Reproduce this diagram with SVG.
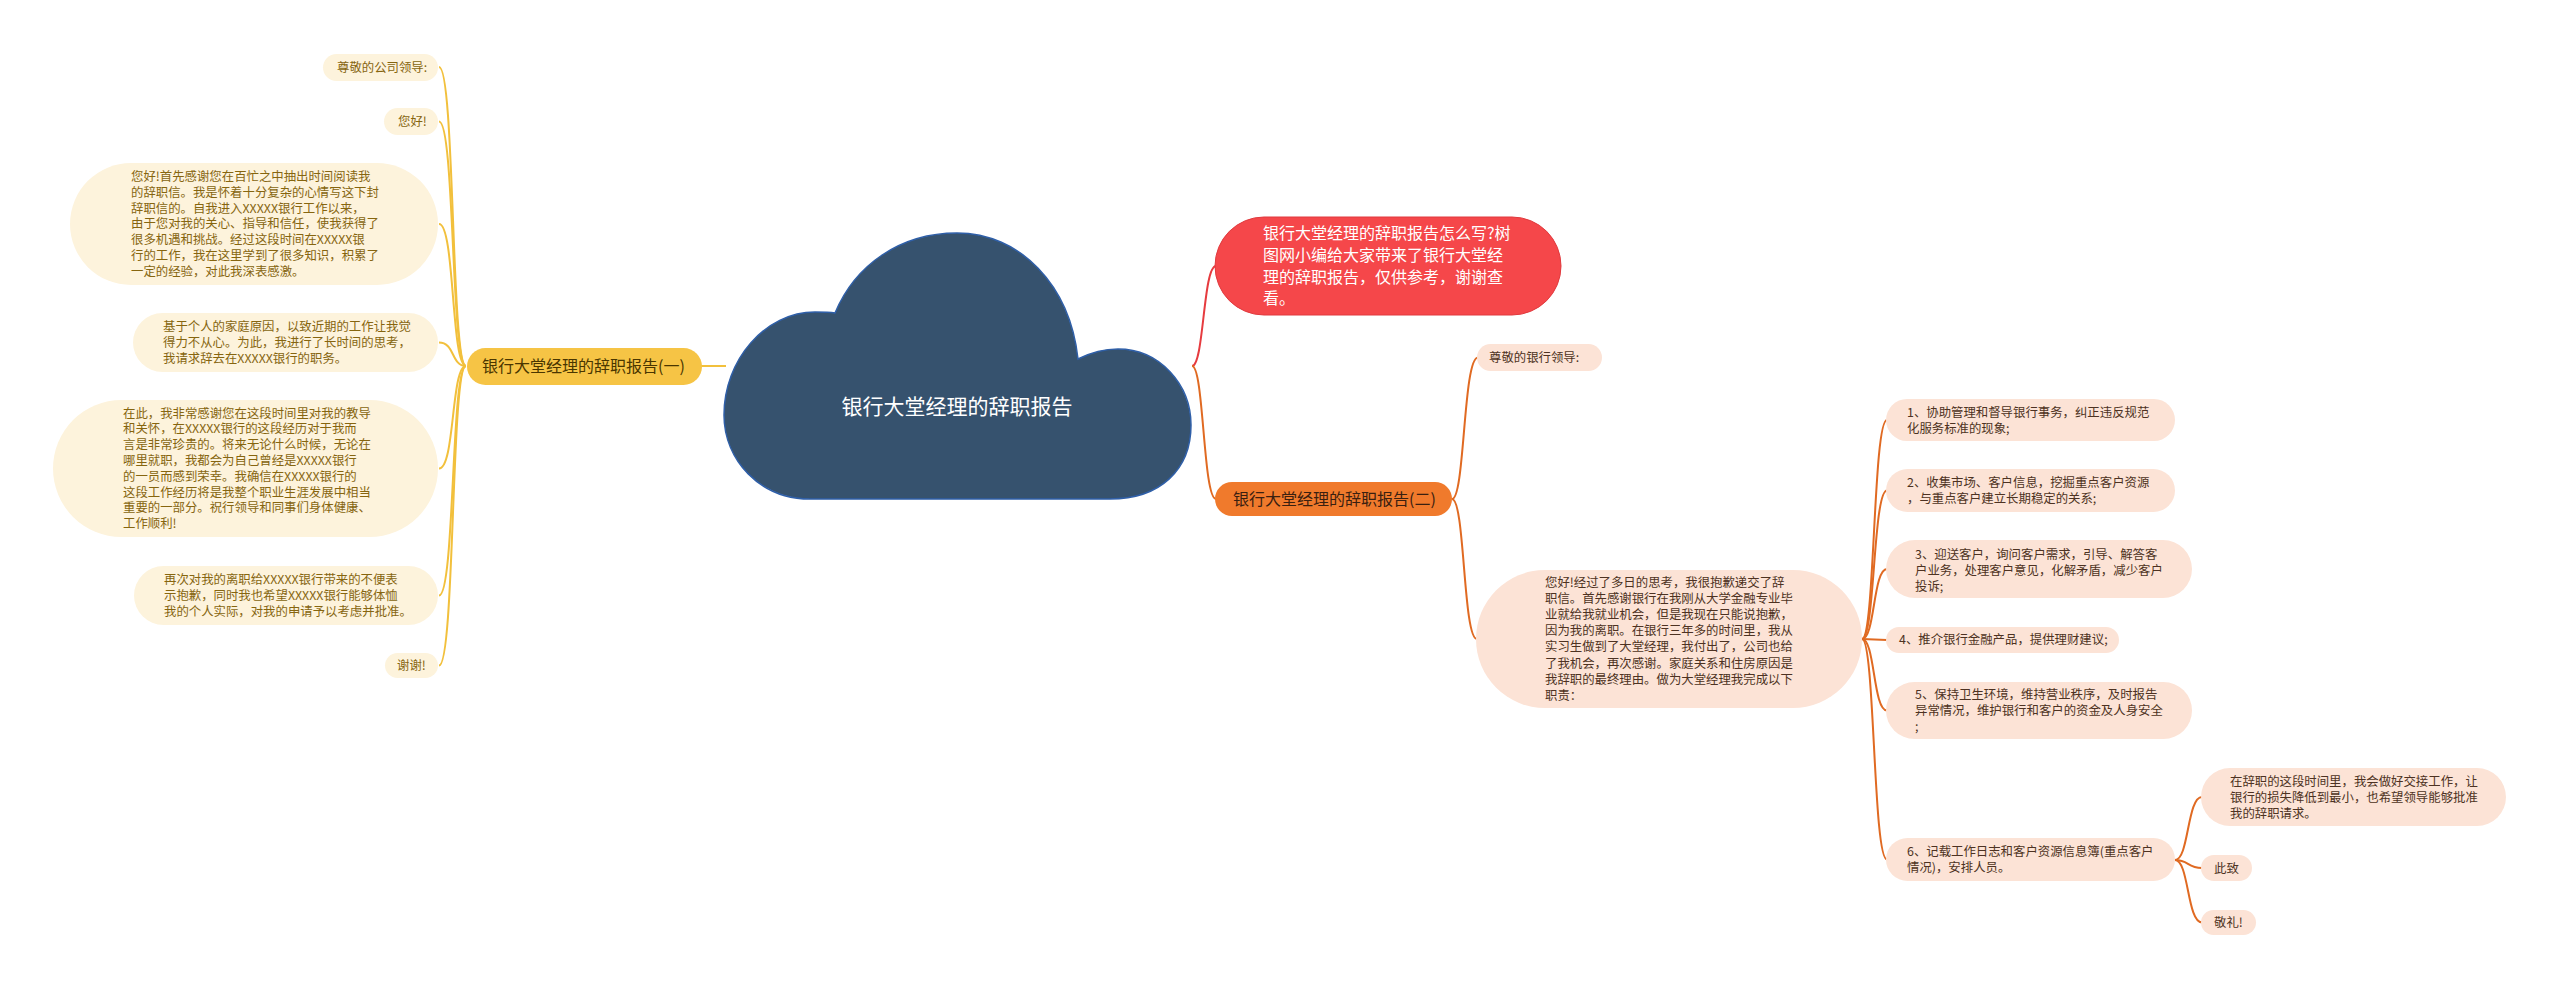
<svg xmlns="http://www.w3.org/2000/svg" width="2560" height="990" viewBox="0 0 2560 990">
<style>
text{font-family:"Noto Sans CJK SC","Noto Sans",sans-serif;}
.ly{fill:#fdf3dc;}
.lt{fill:#86650f;font-size:12.4px;}
.rp{fill:#fce3d6;}
.rt{fill:#4d3222;font-size:12.4px;}
.cy{fill:none;stroke:#f2c03c;stroke-width:2;}
.co{fill:none;stroke:#e06a22;stroke-width:2;}
.cr{fill:none;stroke:#e63b3f;stroke-width:2;}
</style>
<rect width="2560" height="990" fill="#ffffff"/>
<g id="connectors">
<path class="cy" d="M700,366 L726,366"/>
<path class="cr" d="M1192,366 C1204,366 1203,266 1216,266"/>
<path class="co" d="M1192,366 C1204,366 1203,499 1216,499"/>
<path class="cy" d="M466,366 C451,366 455,67 439,67"/>
<path class="cy" d="M466,366 C451,366 455,121.5 439,121.5"/>
<path class="cy" d="M466,366 C451,366 455,224 439,224"/>
<path class="cy" d="M466,366 C451,366 455,342.5 439,342.5"/>
<path class="cy" d="M466,366 C451,366 455,468.5 439,468.5"/>
<path class="cy" d="M466,366 C451,366 455,595.5 439,595.5"/>
<path class="cy" d="M466,366 C451,366 455,665.5 439,665.5"/>
<path class="co" d="M1452,499 C1465,499 1463,357.5 1478,357.5"/>
<path class="co" d="M1452,499 C1465,499 1463,639 1477,639"/>
<path class="co" d="M1862,639 C1875,639 1873,420 1887,420"/>
<path class="co" d="M1862,639 C1875,639 1873,490.5 1887,490.5"/>
<path class="co" d="M1862,639 C1875,639 1873,569 1887,569"/>
<path class="co" d="M1862,639 L1887,640"/>
<path class="co" d="M1862,639 C1875,639 1873,710.5 1887,710.5"/>
<path class="co" d="M1862,639 C1875,639 1873,859.5 1887,859.5"/>
<path class="co" d="M2175,860 C2189,860 2187,797 2202,797"/>
<path class="co" d="M2175,860 C2189,860 2187,868 2202,868"/>
<path class="co" d="M2175,860 C2189,860 2187,922.5 2202,922.5"/>
</g>
<g id="root">
<path d="M835,313 C855,265 900,233 957,233 C1020,233 1070,285 1078,359 C1092,352 1104,349 1118,349 C1160,349 1191,385 1191,425 C1191,470 1160,499 1110,499 L810,499 C760,499 724,460 724,415 C724,360 765,312 815,312 C822,312 829,312 835,313 Z" fill="#36526e" stroke="#2f5fa8" stroke-width="1.5"/>
<text x="957" y="414" font-size="21" fill="#ffffff" text-anchor="middle">银行大堂经理的辞职报告</text>
</g>
<g id="intro">
<rect x="1215" y="217" width="346" height="98" rx="49" fill="#f5474a" stroke="#e03a3e" stroke-width="1"/>
<text font-size="16" fill="#ffffff"><tspan x="1263" y="239">银行大堂经理的辞职报告怎么写?树</tspan><tspan x="1263" y="261">图网小编给大家带来了银行大堂经</tspan><tspan x="1263" y="282.5">理的辞职报告，仅供参考，谢谢查</tspan><tspan x="1263" y="304">看。</tspan></text>
</g>
<g id="branch1">
<rect x="467" y="348" width="235" height="37" rx="18.5" fill="#f6c445"/>
<text x="482" y="372" font-size="16" fill="#4a3600">银行大堂经理的辞职报告(一)</text>
</g>
<g id="branch2">
<rect x="1215" y="482" width="237" height="34" rx="17" fill="#f07a2c"/>
<text x="1233" y="505" font-size="16" fill="#3a2010">银行大堂经理的辞职报告(二)</text>
</g>
<g id="l1"><rect class="ly" x="323" y="54" width="115" height="27" rx="13.5"/><text class="lt" x="337" y="72">尊敬的公司领导:</text></g>
<g id="l2"><rect class="ly" x="384" y="108" width="54" height="27" rx="13.5"/><text class="lt" x="398" y="126">您好!</text></g>
<g id="l3"><rect class="ly" x="70" y="163" width="368" height="122" rx="61"/>
<text class="lt"><tspan x="131" y="181">您好!首先感谢您在百忙之中抽出时间阅读我</tspan><tspan x="131" y="196.8">的辞职信。我是怀着十分复杂的心情写这下封</tspan><tspan x="131" y="212.6">辞职信的。自我进入XXXXX银行工作以来，</tspan><tspan x="131" y="228.4">由于您对我的关心、指导和信任，使我获得了</tspan><tspan x="131" y="244.2">很多机遇和挑战。经过这段时间在XXXXX银</tspan><tspan x="131" y="260">行的工作，我在这里学到了很多知识，积累了</tspan><tspan x="131" y="275.8">一定的经验，对此我深表感激。</tspan></text></g>
<g id="l4"><rect class="ly" x="133" y="313" width="305" height="59" rx="29.5"/>
<text class="lt"><tspan x="163" y="331">基于个人的家庭原因，以致近期的工作让我觉</tspan><tspan x="163" y="346.8">得力不从心。为此，我进行了长时间的思考，</tspan><tspan x="163" y="362.6">我请求辞去在XXXXX银行的职务。</tspan></text></g>
<g id="l5"><rect class="ly" x="53" y="400" width="385" height="137" rx="68.5"/>
<text class="lt"><tspan x="123" y="417.5">在此，我非常感谢您在这段时间里对我的教导</tspan><tspan x="123" y="433.3">和关怀，在XXXXX银行的这段经历对于我而</tspan><tspan x="123" y="449.1">言是非常珍贵的。将来无论什么时候，无论在</tspan><tspan x="123" y="464.9">哪里就职，我都会为自己曾经是XXXXX银行</tspan><tspan x="123" y="480.7">的一员而感到荣幸。我确信在XXXXX银行的</tspan><tspan x="123" y="496.5">这段工作经历将是我整个职业生涯发展中相当</tspan><tspan x="123" y="512.3">重要的一部分。祝行领导和同事们身体健康、</tspan><tspan x="123" y="528.1">工作顺利!</tspan></text></g>
<g id="l6"><rect class="ly" x="134" y="566" width="304" height="59" rx="29.5"/>
<text class="lt"><tspan x="164" y="584">再次对我的离职给XXXXX银行带来的不便表</tspan><tspan x="164" y="599.8">示抱歉，同时我也希望XXXXX银行能够体恤</tspan><tspan x="164" y="615.6">我的个人实际，对我的申请予以考虑并批准。</tspan></text></g>
<g id="l7"><rect class="ly" x="385" y="653" width="53" height="25" rx="12.5"/><text class="lt" x="397" y="670">谢谢!</text></g>
<g id="r1"><rect class="rp" x="1477" y="344" width="125" height="27" rx="13.5"/><text class="rt" x="1489" y="362">尊敬的银行领导:</text></g>
<g id="r2"><rect class="rp" x="1476" y="570" width="386" height="138" rx="69"/>
<text class="rt"><tspan x="1545" y="587">您好!经过了多日的思考，我很抱歉递交了辞</tspan><tspan x="1545" y="603.1">职信。首先感谢银行在我刚从大学金融专业毕</tspan><tspan x="1545" y="619.2">业就给我就业机会，但是我现在只能说抱歉，</tspan><tspan x="1545" y="635.3">因为我的离职。在银行三年多的时间里，我从</tspan><tspan x="1545" y="651.4">实习生做到了大堂经理，我付出了，公司也给</tspan><tspan x="1545" y="667.5">了我机会，再次感谢。家庭关系和住房原因是</tspan><tspan x="1545" y="683.6">我辞职的最终理由。做为大堂经理我完成以下</tspan><tspan x="1545" y="699.7">职责：</tspan></text></g>
<g id="s1"><rect class="rp" x="1886" y="399" width="289" height="42" rx="21"/>
<text class="rt"><tspan x="1907" y="416.5">1、协助管理和督导银行事务，纠正违反规范</tspan><tspan x="1907" y="432.5">化服务标准的现象;</tspan></text></g>
<g id="s2"><rect class="rp" x="1886" y="469" width="289" height="43" rx="21.5"/>
<text class="rt"><tspan x="1907" y="487">2、收集市场、客户信息，挖掘重点客户资源</tspan><tspan x="1907" y="503">，与重点客户建立长期稳定的关系;</tspan></text></g>
<g id="s3"><rect class="rp" x="1886" y="540" width="306" height="58" rx="29"/>
<text class="rt"><tspan x="1915" y="559">3、迎送客户，询问客户需求，引导、解答客</tspan><tspan x="1915" y="575">户业务，处理客户意见，化解矛盾，减少客户</tspan><tspan x="1915" y="591">投诉;</tspan></text></g>
<g id="s4"><rect class="rp" x="1886" y="627" width="233" height="26" rx="13"/>
<text class="rt" x="1899" y="644">4、推介银行金融产品，提供理财建议;</text></g>
<g id="s5"><rect class="rp" x="1886" y="682" width="306" height="57" rx="28.5"/>
<text class="rt"><tspan x="1915" y="699">5、保持卫生环境，维持营业秩序，及时报告</tspan><tspan x="1915" y="715">异常情况，维护银行和客户的资金及人身安全</tspan><tspan x="1915" y="731">;</tspan></text></g>
<g id="s6"><rect class="rp" x="1886" y="838" width="289" height="43" rx="21.5"/>
<text class="rt"><tspan x="1907" y="856">6、记载工作日志和客户资源信息簿(重点客户</tspan><tspan x="1907" y="872">情况)，安排人员。</tspan></text></g>
<g id="t1"><rect class="rp" x="2201" y="768" width="305" height="58" rx="29"/>
<text class="rt"><tspan x="2230" y="786">在辞职的这段时间里，我会做好交接工作，让</tspan><tspan x="2230" y="802">银行的损失降低到最小，也希望领导能够批准</tspan><tspan x="2230" y="818">我的辞职请求。</tspan></text></g>
<g id="t2"><rect class="rp" x="2201" y="855" width="51" height="26" rx="13"/><text class="rt" x="2214" y="872.5">此致</text></g>
<g id="t3"><rect class="rp" x="2201" y="910" width="55" height="25" rx="12.5"/><text class="rt" x="2214" y="927">敬礼!</text></g>
</svg>
